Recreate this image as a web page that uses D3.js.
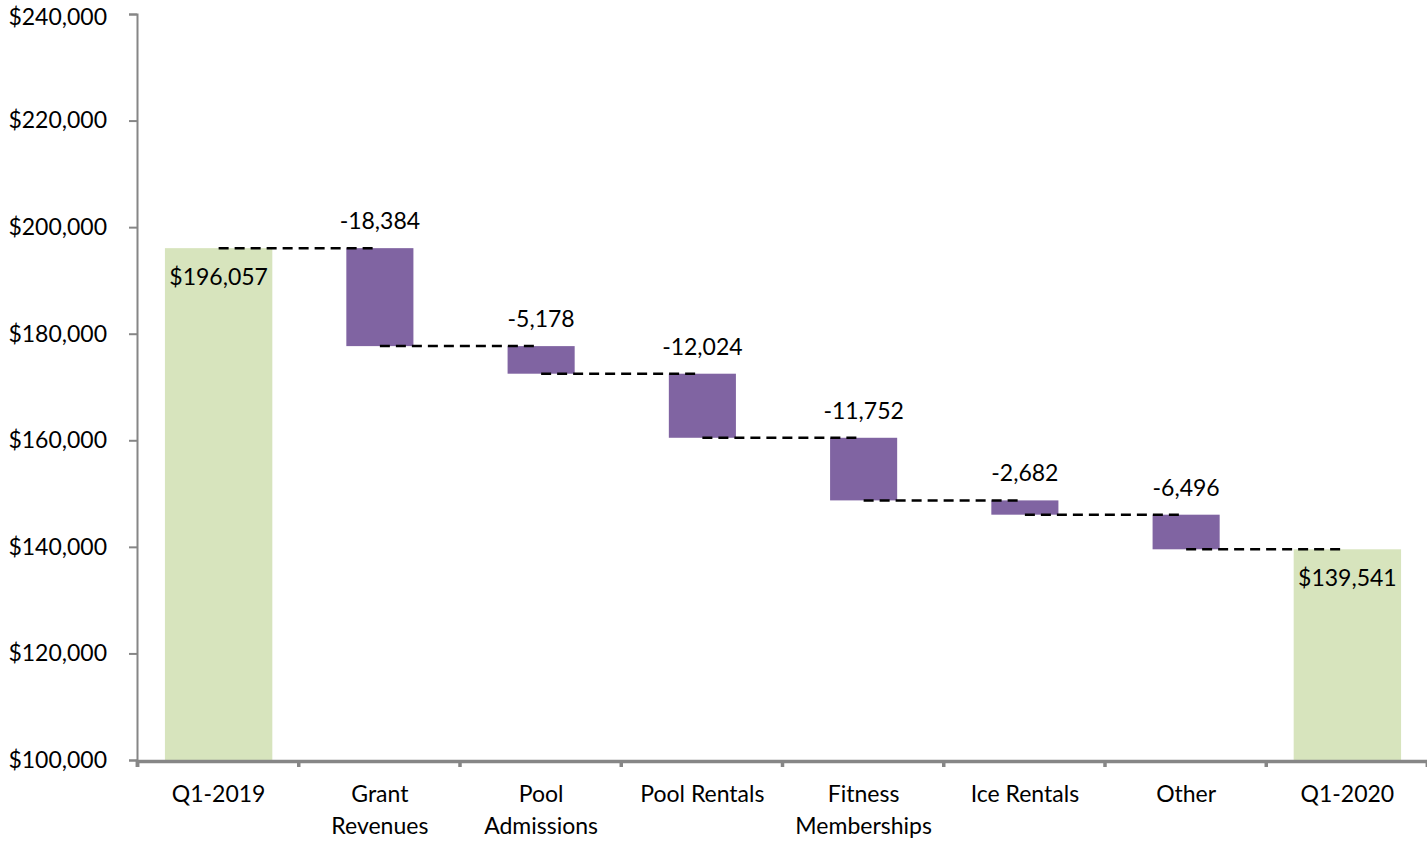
<!DOCTYPE html>
<html>
<head>
<meta charset="utf-8">
<script src="https://cdn.jsdelivr.net/npm/d3@7"></script>
<style>
  body { margin: 0; background: #fff; }
  svg text { font-family: Lato, "Open Sans", sans-serif; fill: #000; }
</style>
</head>
<body>
<div id="chart"></div>
<script>
var svgWidth = 1427;
var svgHeight = 844;

// chart data
var categories = ["Q1-2019", "Grant Revenues", "Pool Admissions", "Pool Rentals", "Fitness Memberships", "Ice Rentals", "Other", "Q1-2020"];
var categoryLines = [["Q1-2019"], ["Grant", "Revenues"], ["Pool", "Admissions"], ["Pool Rentals"], ["Fitness", "Memberships"], ["Ice Rentals"], ["Other"], ["Q1-2020"]];
var values = [196057, -18384, -5178, -12024, -11752, -2682, -6496, 139541];
var isTotal = [true, false, false, false, false, false, false, true];
var yTicks = [100000, 120000, 140000, 160000, 180000, 200000, 220000, 240000];

var plot = { left: 137, right: 1427, top: 14, bottom: 760 };
var fontSize = "23px";

// plain hyphen instead of unicode minus
var fmt = function(v) { return d3.format(",")(v).replace("\u2212", "-"); };

// build the waterfall steps
var running = 0;
var steps = values.map(function(v, i) {
  var s;
  if (isTotal[i]) {
    s = { cat: categories[i], lo: 100000, hi: v, end: v, total: true, value: v };
    running = v;
  } else {
    var start = running;
    running = start + v;
    s = { cat: categories[i], lo: Math.min(start, running), hi: Math.max(start, running), end: running, total: false, value: v };
  }
  return s;
});

var svg = d3.select("#chart").append("svg")
  .attr("width", svgWidth)
  .attr("height", svgHeight);

var xScale = d3.scaleBand()
  .domain(categories)
  .range([plot.left, plot.right])
  .padding(0);

var xEdge = d3.scaleLinear()
  .domain([0, categories.length])
  .range([plot.left, plot.right]);

var yScale = d3.scaleLinear()
  .domain([100000, 240000])
  .range([plot.bottom, plot.top]);

var step = xScale.bandwidth();
var center = function(c) { return xScale(c) + step / 2 + 1; };

// y axis
var leftAxis = d3.axisLeft(yScale)
  .tickValues(yTicks)
  .tickSize(8)
  .tickPadding(22)
  .tickFormat(function(d) { return "$" + fmt(d); });

var yG = svg.append("g")
  .attr("transform", "translate(" + plot.left + ",0)")
  .call(leftAxis);
yG.select(".domain").attr("stroke", "#868686").attr("stroke-width", 2);
yG.selectAll(".tick line").attr("stroke", "#868686").attr("stroke-width", 2);
yG.selectAll(".tick text")
  .style("font-size", fontSize)
  .attr("fill", "#000")
  .attr("dy", function(d) { return d === 240000 ? "0.45em" : "0.32em"; });

// bars
svg.selectAll("rect.bar")
  .data(steps)
  .enter()
  .append("rect")
  .attr("class", "bar")
  .attr("x", function(d) { return center(d.cat) - (d.total ? step * 0.333 : step * 0.208); })
  .attr("width", function(d) { return d.total ? step * 0.666 : step * 0.416; })
  .attr("y", function(d) { return yScale(d.hi); })
  .attr("height", function(d) { return yScale(d.lo) - yScale(d.hi); })
  .attr("fill", function(d) { return d.total ? "#D7E4BD" : "#8064A2"; });

// dashed connectors
var links = steps.slice(0, -1).map(function(d, i) {
  return { x1: center(d.cat), x2: center(steps[i + 1].cat) - 7, y: d.end };
});
svg.selectAll("line.link")
  .data(links)
  .enter()
  .append("line")
  .attr("class", "link")
  .attr("x1", function(d) { return d.x1; })
  .attr("x2", function(d) { return d.x2; })
  .attr("y1", function(d) { return yScale(d.y); })
  .attr("y2", function(d) { return yScale(d.y); })
  .attr("stroke", "#000")
  .attr("stroke-width", 2.5)
  .attr("stroke-dasharray", "10,6");

// x axis
var bottomAxis = d3.axisBottom(xEdge)
  .tickValues(d3.range(categories.length + 1))
  .tickSize(6)
  .tickFormat("");
var xG = svg.append("g")
  .attr("transform", "translate(0," + (plot.bottom + 1) + ")")
  .call(bottomAxis);
xG.select(".domain").attr("stroke", "#868686").attr("stroke-width", 3.5);
xG.selectAll(".tick line").attr("stroke", "#868686").attr("stroke-width", 3.5);

// category labels
var catG = svg.selectAll("text.cat")
  .data(categories)
  .enter()
  .append("text")
  .attr("class", "cat")
  .attr("text-anchor", "middle")
  .style("font-size", fontSize)
  .attr("y", 802);
catG.selectAll("tspan")
  .data(function(d, i) { return categoryLines[i].map(function(t) { return { t: t, c: d }; }); })
  .enter()
  .append("tspan")
  .attr("x", function(d) { return center(d.c); })
  .attr("dy", function(d, j) { return j === 0 ? 0 : 32; })
  .text(function(d) { return d.t; });

// value labels
svg.selectAll("text.val")
  .data(steps)
  .enter()
  .append("text")
  .attr("class", "val")
  .attr("text-anchor", "middle")
  .style("font-size", fontSize)
  .attr("x", function(d) { return center(d.cat); })
  .attr("y", function(d) { return d.total ? yScale(d.hi) + 37 : yScale(d.hi) - 19; })
  .text(function(d) { return d.total ? "$" + fmt(d.value) : fmt(d.value); });
</script>
</body>
</html>
